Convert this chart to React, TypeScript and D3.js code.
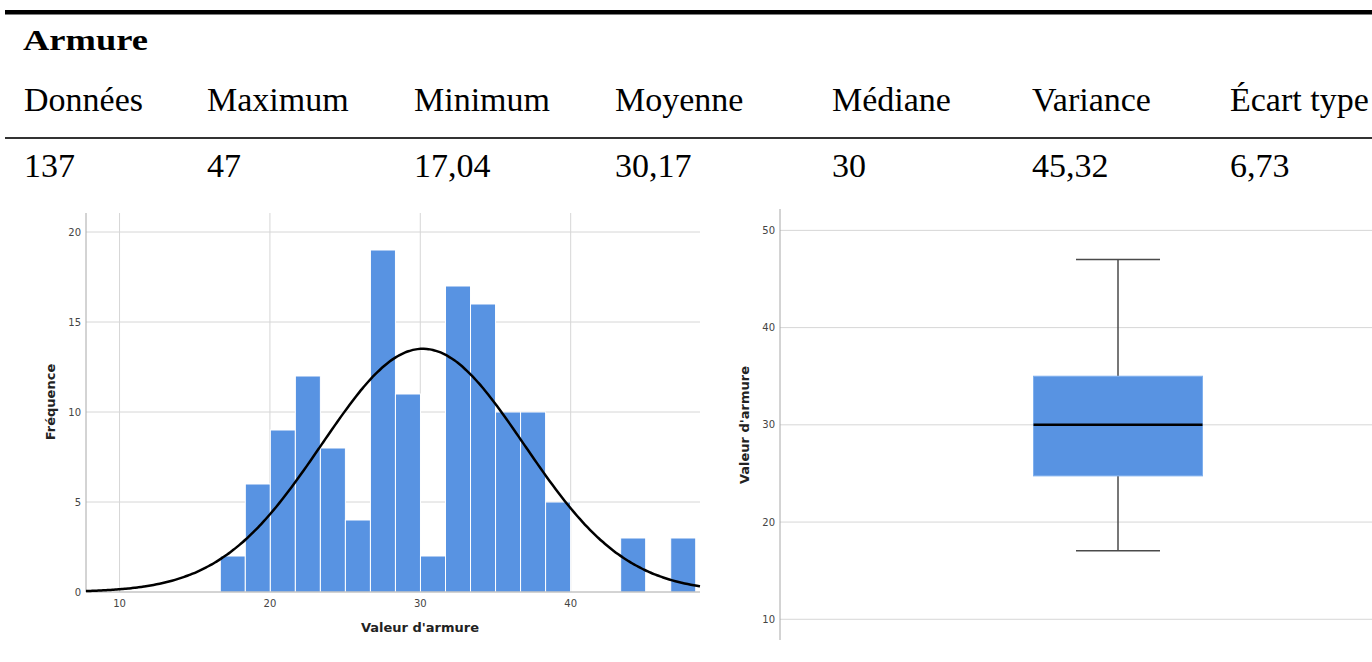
import React, { useEffect, useRef } from 'react';
import * as d3 from 'd3';

// summary table
const statLabels = ['Données', 'Maximum', 'Minimum', 'Moyenne', 'Médiane', 'Variance', 'Écart type'];
const statValues = ['137', '47', '17,04', '30,17', '30', '45,32', '6,73'];
const statColumnX = [24, 207, 414, 615, 832, 1032, 1230];

// histogram
const binStart = 16.7;
const binWidth = 1.664;
const binCounts = [2, 6, 9, 12, 8, 4, 19, 11, 2, 17, 16, 10, 10, 5, 0, 0, 3, 0, 3];
const histXTicks = [10, 20, 30, 40];
const histYTicks = [0, 5, 10, 15, 20];
const sampleSize = 137;
const sampleMean = 30.17;
const sampleSd = 6.73;

// box plot
const boxStats = { min: 17.04, q1: 24.75, median: 30, q3: 35, max: 47 };
const boxYTicks = [10, 20, 30, 40, 50];

const W = 1372;
const H = 662;
const BLUE = '#5893e2';
const GRID = '#d6d6d6';
const AXIS = '#a8a8a8';
const SANS = '"DejaVu Sans", sans-serif';

const App: React.FC = () => {
  const svgRef = useRef<SVGSVGElement | null>(null);

  useEffect(() => {
    if (!svgRef.current) return;
    const svg = d3.select(svgRef.current);
    svg.selectAll('*').remove();

    // ---- table header ----
    const table = svg.append('g').attr('font-family', '"Liberation Serif", serif').attr('fill', '#000');
    table.append('rect').attr('x', 5).attr('y', 10).attr('width', W).attr('height', 4.5).attr('fill', '#000');
    table
      .append('text')
      .attr('x', 23)
      .attr('y', 50)
      .attr('font-size', 30)
      .attr('font-weight', 700)
      .attr('textLength', 125)
      .attr('lengthAdjust', 'spacingAndGlyphs')
      .text('Armure');
    table
      .selectAll('.lbl')
      .data(statLabels)
      .join('text')
      .attr('x', (_, i) => statColumnX[i])
      .attr('y', 111)
      .attr('font-size', 34)
      .text(d => d);
    table.append('rect').attr('x', 5).attr('y', 137).attr('width', W).attr('height', 2).attr('fill', '#333');
    table
      .selectAll('.val')
      .data(statValues)
      .join('text')
      .attr('x', (_, i) => statColumnX[i])
      .attr('y', 177)
      .attr('font-size', 34)
      .text(d => d);

    // ---- histogram ----
    const hx = d3.scaleLinear().domain([7.77, 48.6]).range([86, 700]);
    const hy = d3.scaleLinear().domain([0, 20]).range([592, 232]);
    const hist = svg.append('g');

    hist
      .selectAll('.vgrid')
      .data(histXTicks)
      .join('line')
      .attr('x1', d => hx(d))
      .attr('x2', d => hx(d))
      .attr('y1', 213)
      .attr('y2', 592)
      .attr('stroke', GRID)
      .attr('stroke-width', 1);
    hist
      .selectAll('.hgrid')
      .data(histYTicks.filter(d => d > 0))
      .join('line')
      .attr('x1', 86)
      .attr('x2', 700)
      .attr('y1', d => hy(d))
      .attr('y2', d => hy(d))
      .attr('stroke', GRID)
      .attr('stroke-width', 1);

    hist
      .selectAll('.bar')
      .data(binCounts.map((c, i) => ({ c, i })).filter(d => d.c > 0))
      .join('rect')
      .attr('x', d => hx(binStart + d.i * binWidth))
      .attr('width', hx(binStart + binWidth) - hx(binStart))
      .attr('y', d => hy(d.c))
      .attr('height', d => hy(0) - hy(d.c))
      .attr('fill', BLUE)
      .attr('stroke', '#ffffff')
      .attr('stroke-width', 1);

    hist.append('line').attr('x1', 86).attr('x2', 700).attr('y1', 592).attr('y2', 592).attr('stroke', AXIS);
    hist.append('line').attr('x1', 86).attr('x2', 86).attr('y1', 213).attr('y2', 592).attr('stroke', AXIS);

    // fitted normal curve
    const peakScale = (sampleSize * binWidth) / (sampleSd * Math.sqrt(2 * Math.PI));
    const curveXs = d3.range(0, 201).map(i => 7.77 + (i / 200) * (48.6 - 7.77));
    const line = d3
      .line<number>()
      .x(v => hx(v))
      .y(v => hy(peakScale * Math.exp(-0.5 * ((v - sampleMean) / sampleSd) ** 2)))
      .curve(d3.curveBasis);
    hist
      .append('path')
      .datum(curveXs)
      .attr('d', line)
      .attr('fill', 'none')
      .attr('stroke', '#000')
      .attr('stroke-width', 2.5);

    hist
      .selectAll('.xt')
      .data(histXTicks)
      .join('text')
      .attr('x', d => hx(d))
      .attr('y', 607)
      .attr('text-anchor', 'middle')
      .attr('font-family', SANS)
      .attr('font-size', 10)
      .attr('fill', '#444')
      .text(d => d);
    hist
      .selectAll('.yt')
      .data(histYTicks)
      .join('text')
      .attr('x', 81)
      .attr('y', d => hy(d) + 3.5)
      .attr('text-anchor', 'end')
      .attr('font-family', SANS)
      .attr('font-size', 10)
      .attr('fill', '#444')
      .text(d => d);
    hist
      .append('text')
      .attr('x', 420)
      .attr('y', 632)
      .attr('text-anchor', 'middle')
      .attr('font-family', SANS)
      .attr('font-size', 13)
      .attr('font-weight', 700)
      .attr('fill', '#222')
      .text("Valeur d'armure");
    hist
      .append('text')
      .attr('transform', 'translate(55,402) rotate(-90)')
      .attr('text-anchor', 'middle')
      .attr('font-family', SANS)
      .attr('font-size', 13)
      .attr('font-weight', 700)
      .attr('fill', '#222')
      .text('Fréquence');

    // ---- box plot ----
    const by = d3.scaleLinear().domain([7.87, 52.2]).range([640, 209]);
    const boxCx = 1118;
    const boxW = 169;
    const capW = 84;
    const box = svg.append('g');

    box
      .selectAll('.bgrid')
      .data(boxYTicks)
      .join('line')
      .attr('x1', 780)
      .attr('x2', W)
      .attr('y1', d => by(d))
      .attr('y2', d => by(d))
      .attr('stroke', GRID)
      .attr('stroke-width', 1);
    box.append('line').attr('x1', 780).attr('x2', 780).attr('y1', 209).attr('y2', 640).attr('stroke', AXIS);

    const whisker = box.append('g').attr('stroke', '#4a4a4a').attr('stroke-width', 1.5);
    whisker.append('line').attr('x1', boxCx).attr('x2', boxCx).attr('y1', by(boxStats.max)).attr('y2', by(boxStats.q3));
    whisker.append('line').attr('x1', boxCx).attr('x2', boxCx).attr('y1', by(boxStats.q1)).attr('y2', by(boxStats.min));
    whisker
      .append('line')
      .attr('x1', boxCx - capW / 2)
      .attr('x2', boxCx + capW / 2)
      .attr('y1', by(boxStats.max))
      .attr('y2', by(boxStats.max));
    whisker
      .append('line')
      .attr('x1', boxCx - capW / 2)
      .attr('x2', boxCx + capW / 2)
      .attr('y1', by(boxStats.min))
      .attr('y2', by(boxStats.min));

    box
      .append('rect')
      .attr('x', boxCx - boxW / 2)
      .attr('width', boxW)
      .attr('y', by(boxStats.q3))
      .attr('height', by(boxStats.q1) - by(boxStats.q3))
      .attr('fill', BLUE)
      .attr('stroke', '#7fb0ee')
      .attr('stroke-width', 1);
    box
      .append('line')
      .attr('x1', boxCx - boxW / 2)
      .attr('x2', boxCx + boxW / 2)
      .attr('y1', by(boxStats.median))
      .attr('y2', by(boxStats.median))
      .attr('stroke', '#000')
      .attr('stroke-width', 2.5);

    box
      .selectAll('.byt')
      .data(boxYTicks)
      .join('text')
      .attr('x', 775)
      .attr('y', d => by(d) + 3.5)
      .attr('text-anchor', 'end')
      .attr('font-family', SANS)
      .attr('font-size', 10)
      .attr('fill', '#444')
      .text(d => d);
    box
      .append('text')
      .attr('transform', 'translate(749,425) rotate(-90)')
      .attr('text-anchor', 'middle')
      .attr('font-family', SANS)
      .attr('font-size', 13)
      .attr('font-weight', 700)
      .attr('fill', '#222')
      .text("Valeur d'armure");
  }, []);

  return (
    <svg
      ref={svgRef}
      width={W}
      height={H}
      viewBox={`0 0 ${W} ${H}`}
      style={{ position: 'absolute', left: 0, top: 0, background: '#fff' }}
    />
  );
};

export default App;
